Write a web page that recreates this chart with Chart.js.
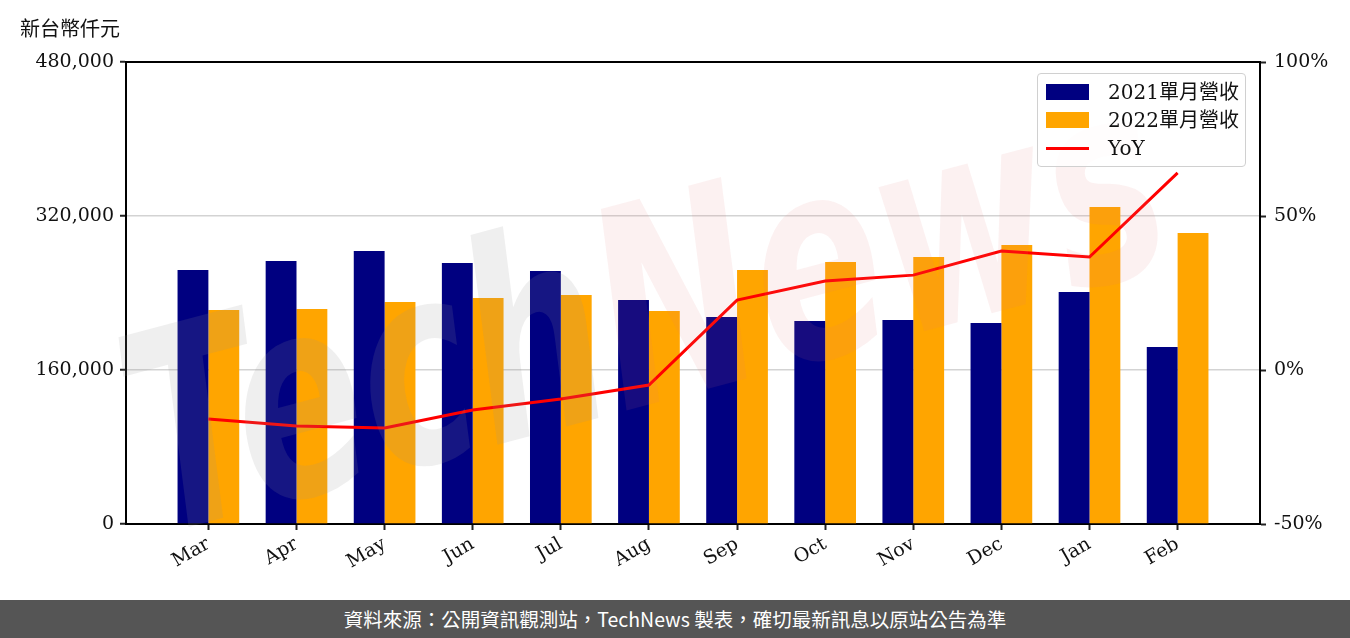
<!DOCTYPE html>
<html>
<head>
<meta charset="utf-8">
<script src="https://cdn.jsdelivr.net/npm/chart.js@4.4.0/dist/chart.umd.min.js"></script>
<style>
  body { margin: 0; width: 1350px; height: 638px; overflow: hidden; background: #fff; position: relative; }
  #wrap { position: absolute; left: 0; top: 0; width: 1350px; height: 600px; }
  #unit { position: absolute; left: 20px; top: 13px; font: 20px 'Noto Sans CJK TC', sans-serif; color: #111; }
  #legend { position: absolute; left: 1037px; top: 73px; width: 209px; height: 94px; border: 1px solid #d0d0d0; border-radius: 4px; background: rgba(255,255,255,0.85); box-sizing: border-box; }
  .item { position: absolute; left: 8px; height: 26px; font: 20px 'DejaVu Serif', 'Noto Sans CJK TC', serif; color: #111; }
  .item span.sw { position: absolute; left: 0; width: 43px; }
  .item span.tx { position: absolute; left: 62px; white-space: nowrap; top: 0; line-height: 26px; }
  #footer { position: absolute; left: 0; top: 600px; width: 1350px; height: 38px; background: #555; color: #fff; font: 19.5px 'Noto Sans CJK TC', sans-serif; text-align: center; line-height: 38px; }
</style>
</head>
<body>
<div id="wrap"><canvas id="grafico" width="1350" height="600"></canvas></div>
<div id="unit">新台幣仟元</div>
<div id="legend"></div>
<div id="footer">資料來源：公開資訊觀測站，TechNews 製表，確切最新訊息以原站公告為準</div>
<script>
const meses = ['Mar', 'Apr', 'May', 'Jun', 'Jul', 'Aug', 'Sep', 'Oct', 'Nov', 'Dec', 'Jan', 'Feb'];
const ingresos2021 = [263900, 273200, 283600, 271200, 262900, 232700, 215100, 210900, 212000, 208800, 241000, 183900];
const ingresos2022 = [222300, 223400, 230700, 234800, 237900, 221300, 263900, 272200, 277400, 289900, 329400, 302300];
const yoy = [-15.9, -18.2, -18.8, -13.0, -9.4, -4.9, 22.7, 28.9, 30.8, 38.6, 36.7, 64.0];
const ticksIzq = [0, 160000, 320000, 480000];
const ticksDer = [-50, 0, 50, 100];

const fuente = "'DejaVu Serif', 'Noto Sans CJK TC', serif";
const aPuntos = arr => arr.map((v, i) => ({ x: i, y: v }));

const marcaAgua = {
  id: 'marcaAgua',
  afterDatasetsDraw(chart) {
    const c = chart.ctx;
    c.save();
    c.translate(650, 330);
    c.rotate(-0.26);
    c.font = "italic bold 240px 'DejaVu Sans'";
    c.textBaseline = 'middle';
    const w1 = c.measureText('Tech').width;
    const w2 = c.measureText('News').width;
    const escala = 1060 / (w1 + w2);
    c.scale(escala, 1.15);
    const x0 = -(w1 + w2) / 2;
    c.fillStyle = 'rgba(150,150,150,0.15)';
    c.fillText('Tech', x0, 0);
    c.fillStyle = 'rgba(230,120,120,0.1)';
    c.fillText('News', x0 + w1, 0);
    c.restore();
  }
};

const bordeSuperior = {
  id: 'bordeSuperior',
  afterDraw(chart) {
    const a = chart.chartArea;
    const c = chart.ctx;
    c.save();
    c.strokeStyle = '#000';
    c.lineWidth = 2;
    c.beginPath();
    c.moveTo(a.left - 1, a.top);
    c.lineTo(a.right + 1, a.top);
    c.stroke();
    c.restore();
  }
};

const ctx = document.getElementById('grafico').getContext('2d');
const chart = new Chart(ctx, {
  data: {
    datasets: [
      {
        type: 'line',
        label: 'YoY',
        data: aPuntos(yoy),
        yAxisID: 'y1',
        borderColor: '#ff0000',
        backgroundColor: '#ff0000',
        borderWidth: 3,
        pointRadius: 0,
        tension: 0,
        order: 0
      },
      {
        type: 'bar',
        label: '2021單月營收',
        data: aPuntos(ingresos2021),
        yAxisID: 'y',
        backgroundColor: '#000080',
        categoryPercentage: 0.7,
        barPercentage: 1.0,
        order: 1
      },
      {
        type: 'bar',
        label: '2022單月營收',
        data: aPuntos(ingresos2022),
        yAxisID: 'y',
        backgroundColor: '#ffa500',
        categoryPercentage: 0.7,
        barPercentage: 1.0,
        order: 1
      }
    ]
  },
  options: {
    responsive: false,
    animation: false,
    layout: { padding: { left: 0, right: 0, top: 62, bottom: 0 } },
    plugins: { legend: { display: false }, tooltip: { enabled: false } },
    scales: {
      x: {
        type: 'linear',
        offset: false,
        min: -0.935,
        max: 11.935,
        afterBuildTicks: s => { s.ticks = meses.map((m, i) => ({ value: i })); },
        afterFit: s => { s.height = 76; },
        ticks: {
          autoSkip: false,
          maxRotation: 30,
          minRotation: 30,
          color: '#111',
          font: { family: fuente, size: 19 },
          callback: v => meses[v]
        },
        grid: { offset: false, drawOnChartArea: false, tickLength: 6, tickColor: '#222', tickWidth: 2 },
        border: { color: '#000', width: 2 }
      },
      y: {
        position: 'left',
        min: 0,
        max: 480000,
        afterBuildTicks: s => { s.ticks = ticksIzq.map(v => ({ value: v })); },
        afterFit: s => { s.width = 126; },
        ticks: {
          color: '#111',
          padding: 6,
          font: { family: fuente, size: 19 },
          callback: v => v.toLocaleString('en-US')
        },
        grid: {
          color: c => (c.tick && (c.tick.value === 0 || c.tick.value === 480000)) ? 'rgba(0,0,0,0)' : '#d3d3d3',
          lineWidth: 1.5,
          tickLength: 6,
          tickColor: '#222',
          tickWidth: 2
        },
        border: { color: '#000', width: 2 }
      },
      y1: {
        position: 'right',
        min: -50,
        max: 100,
        afterBuildTicks: s => { s.ticks = ticksDer.map(v => ({ value: v })); },
        afterFit: s => { s.width = 90; },
        ticks: {
          color: '#111',
          padding: 8,
          font: { family: fuente, size: 19 },
          callback: v => v + '%'
        },
        grid: { drawOnChartArea: false, tickLength: 6, tickColor: '#222', tickWidth: 2 },
        border: { color: '#000', width: 2 }
      }
    }
  },
  plugins: [marcaAgua, bordeSuperior]
});

// leyenda en HTML
const leyenda = document.getElementById('legend');
const orden = [1, 2, 0];
orden.forEach((idx, fila) => {
  const ds = chart.data.datasets[idx];
  const item = document.createElement('div');
  item.className = 'item';
  item.style.top = (5 + fila * 28) + 'px';
  const sw = document.createElement('span');
  sw.className = 'sw';
  if (ds.type === 'line') {
    sw.style.top = '12px';
    sw.style.height = '3px';
    sw.style.background = ds.borderColor;
  } else {
    sw.style.top = '5px';
    sw.style.height = '16px';
    sw.style.background = ds.backgroundColor;
  }
  const tx = document.createElement('span');
  tx.className = 'tx';
  tx.textContent = ds.label;
  item.appendChild(sw);
  item.appendChild(tx);
  leyenda.appendChild(item);
});
</script>
</body>
</html>
